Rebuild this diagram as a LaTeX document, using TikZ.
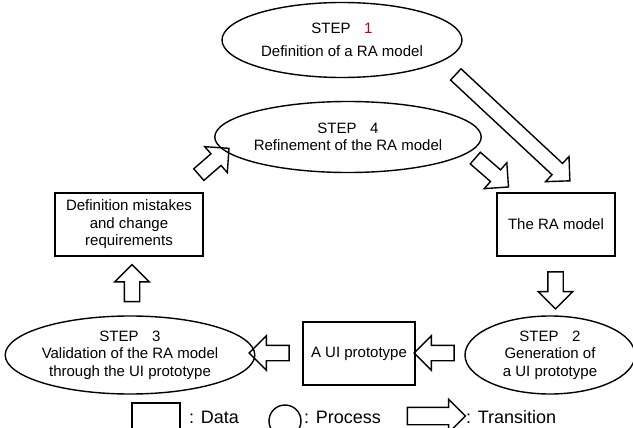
\documentclass[tikz,border=0pt]{standalone}
\usepackage{fontspec}
\setmainfont{Liberation Sans}
\usetikzlibrary{shapes.geometric,shapes.arrows}
\definecolor{stepred}{RGB}{192,0,0}
\begin{document}
\begin{tikzpicture}[x=1pt,y=-1pt,
  lw/.style={line width=1.4pt},
  txt/.style={font=\fontsize{15}{17.5}\selectfont},
  proc/.style={draw, ellipse, lw, inner sep=0pt, align=center, txt},
  data/.style={draw, rectangle, lw, inner sep=0pt, align=center, txt},
  trans/.style={draw, single arrow, lw, inner xsep=0pt, inner ysep=7pt,
     minimum width=0pt, single arrow head extend=9.5pt, single arrow tip angle=90},
  legtxt/.style={font=\fontsize{18}{20}\selectfont, anchor=base west, inner sep=0pt}]
\useasboundingbox (0,0) rectangle (633,428);
\clip (0,0) rectangle (633,428);

% processes
\node[proc, minimum width=240pt, minimum height=75pt] (s1) at (342,40)
  {STEP\hspace{0.9em}\textcolor{stepred}{1}\\[5pt] Definition of a RA model};
\node[proc, minimum width=250pt, minimum height=71pt] (s4) at (348,137)
  {STEP\hspace{0.9em}4\\ Refinement of the RA model};
\node[proc, minimum width=170pt, minimum height=78pt] (s2) at (550,355)
  {STEP\hspace{0.9em}2\\ Generation of\\ a UI prototype};
\node[proc, minimum width=240pt, minimum height=78pt] (s3) at (130,355)
  {STEP\hspace{0.9em}3\\ Validation of the RA model\\ through the UI prototype};

% data
\node[data, minimum width=148pt, minimum height=63pt] (dm) at (129,224.5)
  {Definition mistakes\\ and change\\ requirements};
\node[data, minimum width=118pt, minimum height=63pt] (ra) at (556,224.5)
  {The RA model};
\node[data, minimum width=112pt, minimum height=63pt] (ui) at (359,353.5)
  {A UI prototype};

% transitions
\node[trans, minimum height=156pt, rotate=-43] (t1) at (510,125) {};
\node[trans, minimum height=44pt, rotate=-41] (t2) at (489,170) {};
\node[trans, minimum height=40pt, rotate=41] (t3) at (211,164) {};
\node[trans, minimum height=37pt, rotate=-90] (t4) at (555.5,286.5) {};
\node[trans, minimum height=37pt, rotate=90] (t5) at (132,287) {};
\node[trans, minimum height=40pt, rotate=180] (t6) at (438,353) {};
\node[trans, minimum height=40pt, rotate=180] (t7) at (273,353) {};

% legend
\node[draw, lw, rectangle, minimum width=48pt, minimum height=40pt, inner sep=0pt] (lgd) at (156,423) {};
\node[legtxt] (lgdt) at (189,423) {: Data};
\node[draw, lw, circle, minimum size=32pt, inner sep=0pt] (lgp) at (285,421) {};
\node[legtxt] (lgpt) at (304,423) {: Process};
\node[draw, single arrow, lw, inner xsep=0pt, inner ysep=8pt, minimum width=0pt,
  single arrow head extend=8pt, single arrow tip angle=90,
  minimum height=58pt] (lga) at (432,416) {};
\node[legtxt] (lgat) at (466,423) {: Transition};
\end{tikzpicture}
\end{document}
